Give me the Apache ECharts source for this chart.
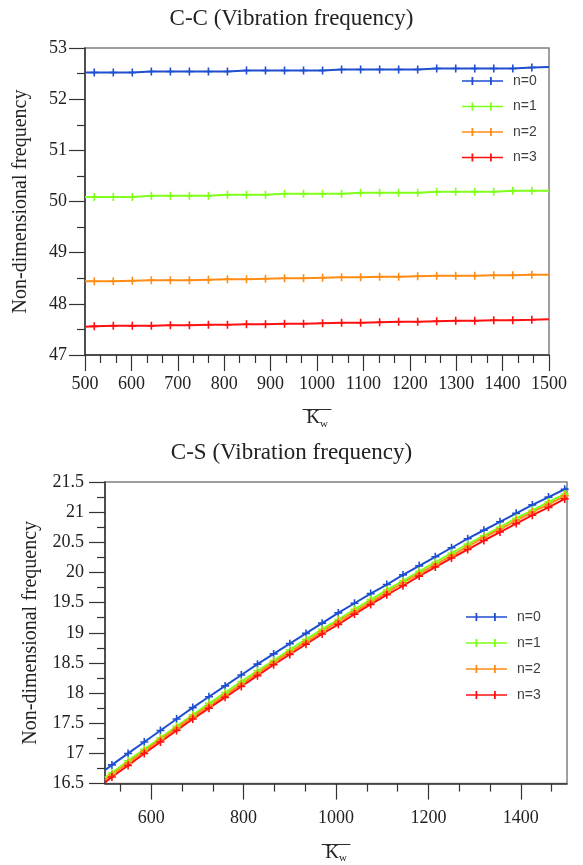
<!DOCTYPE html>
<html>
<head>
<meta charset="utf-8">
<script src="https://cdn.jsdelivr.net/npm/echarts@6/dist/echarts.min.js"></script>
<style>
html,body{margin:0;padding:0;background:#fff;}
#chart{width:583px;height:865px;}
</style>
</head>
<body>
<div id="chart"></div>
<script>
// ---------- DATA ----------
const seriesNames = ['n=0', 'n=1', 'n=2', 'n=3'];

// C-C chart
const kwTop = [500, 520, 561, 602, 643, 684, 725, 766, 807, 848, 889, 930, 971, 1012, 1053, 1094, 1135, 1176, 1217, 1258, 1299, 1340, 1381, 1422, 1463, 1500];
const ccN0 = [52.52,52.52,52.52,52.52,52.54,52.54,52.54,52.54,52.54,52.56,52.56,52.56,52.56,52.56,52.58,52.58,52.58,52.58,52.58,52.60,52.60,52.60,52.60,52.60,52.62,52.63];
const ccN1 = [50.09,50.09,50.09,50.09,50.11,50.11,50.11,50.11,50.13,50.13,50.13,50.15,50.15,50.15,50.15,50.17,50.17,50.17,50.17,50.19,50.19,50.19,50.19,50.21,50.21,50.21];
const ccN2 = [48.44,48.44,48.44,48.45,48.46,48.46,48.46,48.47,48.48,48.48,48.49,48.50,48.50,48.51,48.52,48.52,48.53,48.53,48.54,48.55,48.55,48.55,48.56,48.56,48.57,48.57];
const ccN3 = [47.55,47.56,47.57,47.57,47.57,47.58,47.58,47.59,47.59,47.60,47.60,47.61,47.61,47.62,47.63,47.63,47.64,47.65,47.65,47.66,47.67,47.67,47.68,47.68,47.69,47.70];

// C-S chart
const kwBot = [500,515,550,585,620,655,690,725,760,795,830,865,900,935,970,1005,1040,1075,1110,1145,1180,1215,1250,1285,1320,1355,1390,1425,1460,1495,1500];
const csN0 = [16.72,16.81,17.00,17.19,17.38,17.57,17.76,17.94,18.12,18.30,18.48,18.65,18.82,18.99,19.16,19.33,19.49,19.65,19.80,19.96,20.11,20.26,20.41,20.56,20.70,20.84,20.98,21.12,21.25,21.38,21.40];
const csN1 = [16.60,16.68,16.88,17.07,17.26,17.45,17.64,17.83,18.01,18.19,18.37,18.54,18.72,18.89,19.06,19.22,19.39,19.55,19.71,19.86,20.02,20.17,20.32,20.47,20.61,20.75,20.90,21.03,21.17,21.30,21.32];
const csN2 = [16.56,16.65,16.84,17.04,17.23,17.42,17.61,17.79,17.97,18.15,18.33,18.51,18.68,18.85,19.02,19.19,19.35,19.51,19.67,19.83,19.98,20.13,20.28,20.43,20.58,20.72,20.86,21.00,21.13,21.27,21.29];
const csN3 = [16.52,16.61,16.80,17.00,17.19,17.38,17.57,17.75,17.93,18.11,18.29,18.47,18.64,18.81,18.98,19.14,19.31,19.47,19.63,19.78,19.94,20.09,20.24,20.38,20.53,20.67,20.81,20.95,21.08,21.22,21.24];

// tick labels
const csXLabels = [600, 800, 1000, 1200, 1400];
const csXMinorTicks = [533.33, 666.67, 733.33, 866.67, 933.33, 1066.67, 1133.33, 1266.67, 1333.33, 1466.67];

const titles = ['C-C (Vibration frequency)', 'C-S (Vibration frequency)'];
const yName = 'Non-dimensional frequency';

// ---------- STYLE ----------
const colors = ['#1f4fd0', '#7fff1a', '#ff8c14', '#ff1010'];
const serif = 'Liberation Serif';
const plusSym = 'path://M4,0H6V10H4Z M0,4H10V6H0Z';
const legendIcon = 'path://M0,3.2H41V4.8H0Z M9.5,0H11.3V8H9.5Z M28,0H29.8V8H28Z';

const zip = (xs, ys) => xs.map((x, i) => [x, ys[i]]);
const symSize = (n) => (v, p) => (p.dataIndex === 0 || p.dataIndex === n - 1) ? 0 : 8;
const plain = (v) => String(Math.round(v * 100) / 100);

const axisText = { fontFamily: serif, fontSize: 18, color: '#222', formatter: plain };
const kwName = {
  name: '{o|___}\n{k|K}{w|w}',
  nameLocation: 'middle',
  nameTextStyle: {
    rich: {
      o: { fontFamily: serif, fontSize: 19, lineHeight: 8, color: '#222' },
      k: { fontFamily: serif, fontSize: 19, lineHeight: 22, color: '#222', verticalAlign: 'middle' },
      w: { fontFamily: serif, fontSize: 11, lineHeight: 22, color: '#222', verticalAlign: 'bottom' }
    }
  }
};

const axisLine = { show: true, lineStyle: { color: '#333', width: 1.5 } };
const majorTick = { show: true, inside: false, length: 16, lineStyle: { color: '#333', width: 1.2 } };
const minorTick = (n) => ({ show: true, splitNumber: n, length: 8, lineStyle: { color: '#333', width: 1.2 } });

const chart = echarts.init(document.getElementById('chart'), null, { renderer: 'canvas' });

const series = [];
const topData = [ccN0, ccN1, ccN2, ccN3];
const botData = [csN0, csN1, csN2, csN3];
for (let i = 0; i < 4; i++) {
  series.push({
    name: seriesNames[i], type: 'line', xAxisIndex: 0, yAxisIndex: 0,
    data: zip(kwTop, topData[i]),
    symbol: plusSym, symbolSize: symSize(kwTop.length),
    showAllSymbol: true,
    lineStyle: { color: colors[i], width: 2 },
    itemStyle: { color: colors[i] },
    animation: false
  });
}
for (let i = 0; i < 4; i++) {
  series.push({
    name: seriesNames[i], type: 'line', xAxisIndex: 1, yAxisIndex: 1,
    data: zip(kwBot, botData[i]),
    symbol: plusSym, symbolSize: symSize(kwBot.length),
    showAllSymbol: true,
    lineStyle: { color: colors[i], width: 2 },
    itemStyle: { color: colors[i] },
    animation: false
  });
}

const legendBase = {
  orient: 'vertical', padding: 0, itemWidth: 41, itemHeight: 8,
  icon: legendIcon, data: seriesNames, selectedMode: false,
  textStyle: { fontFamily: 'Liberation Sans', fontSize: 14, color: '#404040', lineHeight: 16, padding: [0, 0, 0, 5] }
};

chart.setOption({
  backgroundColor: '#fff',
  animation: false,
  title: [
    { text: titles[0], left: 'center', top: 2, textStyle: { fontFamily: serif, fontSize: 23, fontWeight: 'normal', color: '#222' } },
    { text: titles[1], left: 'center', top: 436, textStyle: { fontFamily: serif, fontSize: 23, fontWeight: 'normal', color: '#222' } }
  ],
  legend: [
    Object.assign({}, legendBase, { left: 462, top: 73, itemGap: 9.5 }),
    Object.assign({}, legendBase, { left: 466, top: 609, itemGap: 10 })
  ],
  grid: [
    { left: 85, top: 48, width: 464, height: 307, show: true, borderColor: '#808080', borderWidth: 1.5, containLabel: false },
    { left: 105, top: 482, width: 462, height: 303, show: true, borderColor: '#808080', borderWidth: 1.5, containLabel: false }
  ],
  xAxis: [
    Object.assign({
      type: 'value', gridIndex: 0, min: 500, max: 1500, interval: 100,
      nameGap: 38,
      axisLine: axisLine, axisTick: majorTick, minorTick: minorTick(3),
      splitLine: { show: false }, minorSplitLine: { show: false },
      axisLabel: Object.assign({ margin: 20 }, axisText)
    }, kwName),
    Object.assign({
      type: 'value', gridIndex: 1, min: 500, max: 1500,
      nameGap: 46,
      axisLine: axisLine,
      axisTick: Object.assign({ customValues: csXLabels }, majorTick),
      splitLine: { show: false },
      axisLabel: Object.assign({ margin: 26, customValues: csXLabels }, axisText)
    }, kwName),
    {
      type: 'value', gridIndex: 1, min: 500, max: 1500, position: 'bottom',
      axisLine: { show: false },
      axisTick: { show: true, length: 8, customValues: csXMinorTicks, lineStyle: { color: '#333', width: 1.2 } },
      axisLabel: { show: false }, splitLine: { show: false }
    }
  ],
  yAxis: [
    {
      type: 'value', gridIndex: 0, min: 47, max: 53, interval: 1,
      name: yName, nameLocation: 'middle', nameGap: 54,
      nameTextStyle: { fontFamily: serif, fontSize: 20, color: '#222' },
      axisLine: axisLine, axisTick: majorTick, minorTick: minorTick(2),
      splitLine: { show: false }, minorSplitLine: { show: false },
      axisLabel: Object.assign({ margin: 18 }, axisText)
    },
    {
      type: 'value', gridIndex: 1, min: 16.5, max: 21.5, interval: 0.5,
      name: yName, nameLocation: 'middle', nameGap: 64,
      nameTextStyle: { fontFamily: serif, fontSize: 20, color: '#222' },
      axisLine: axisLine, axisTick: majorTick, minorTick: minorTick(2),
      splitLine: { show: false }, minorSplitLine: { show: false },
      axisLabel: Object.assign({ margin: 21 }, axisText)
    }
  ],
  series: series
});
</script>
</body>
</html>
